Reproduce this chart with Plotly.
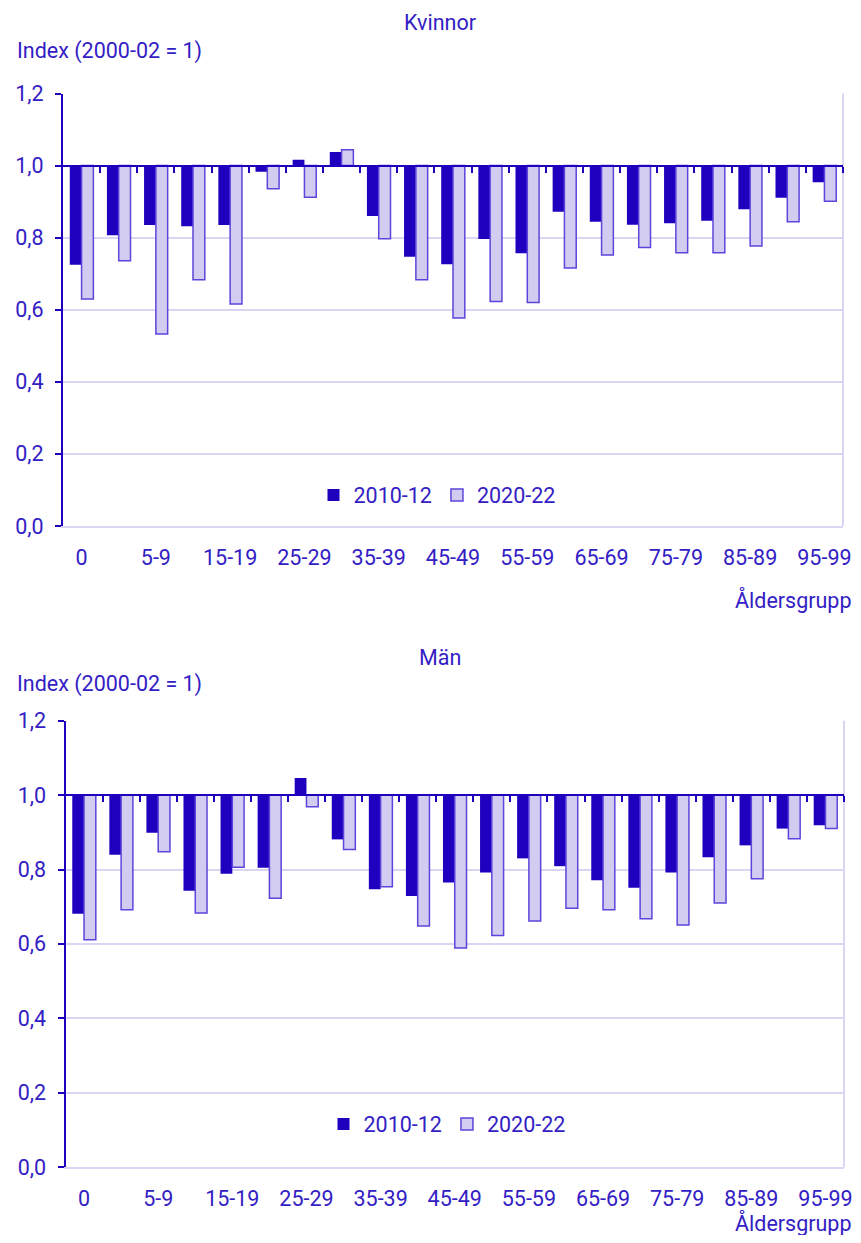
import plotly.graph_objects as go

categories = ["0", "1-4", "5-9", "10-14", "15-19", "20-24", "25-29", "30-34", "35-39",
              "40-44", "45-49", "50-54", "55-59", "60-64", "65-69", "70-74", "75-79",
              "80-84", "85-89", "90-94", "95-99"]
series_names = ["2010-12", "2020-22"]
panel_titles = ["Kvinnor", "Män"]
y_title = "Index (2000-02 = 1)"
x_title = "Åldersgrupp"

kvinnor_2010 = [0.725, 0.807, 0.835, 0.832, 0.835, 0.983, 1.016, 1.038, 0.860, 0.747, 0.726,
                0.796, 0.757, 0.872, 0.844, 0.836, 0.840, 0.847, 0.879, 0.911, 0.954]
kvinnor_2020 = [0.630, 0.736, 0.533, 0.683, 0.616, 0.936, 0.912, 1.044, 0.797, 0.683, 0.577,
                0.623, 0.620, 0.716, 0.752, 0.773, 0.758, 0.758, 0.777, 0.844, 0.901]
man_2010 = [0.681, 0.840, 0.899, 0.743, 0.789, 0.805, 1.046, 0.881, 0.747, 0.729, 0.765,
            0.792, 0.830, 0.809, 0.771, 0.751, 0.792, 0.833, 0.865, 0.910, 0.919]
man_2020 = [0.611, 0.692, 0.848, 0.683, 0.806, 0.723, 0.969, 0.854, 0.754, 0.648, 0.589,
            0.623, 0.662, 0.696, 0.692, 0.668, 0.651, 0.710, 0.775, 0.883, 0.910]

y_ticks = [0.0, 0.2, 0.4, 0.6, 0.8, 1.0, 1.2]
base_value = 1.0

# page is 861x1243; browser body margin is 8px, so the figure is 16px smaller
OFF = 8
W, H = 861 - 2 * OFF, 1243 - 2 * OFF
DARK = "#1e00be"
LIGHT = "#d2cdf0"
LIGHT_LINE = "#5a46dc"
GRID = "#d9d5f3"
TEXT = "#3320c4"
FONT = "Roboto"
FS = 21.5

def px_x(p):
    return (p - OFF) / W

def px_y(p):
    return 1 - (p - OFF) / H

# panel geometry (page pixels)
panels = [
    dict(x0=63, x1=843, ytop=93.5, ybot=526, data=(kvinnor_2010, kvinnor_2020),
         title_y=22, ytitle_y=51, xtitle_y=600, legend_x=437, legend_y=495),
    dict(x0=65.5, x1=844, ytop=720.7, ybot=1167.2, data=(man_2010, man_2020),
         title_y=657, ytitle_y=684, xtitle_y=1223, legend_x=447, legend_y=1124),
]

fig = go.Figure()
annotations = []
shapes = []
layout = dict(width=W, height=H, margin=dict(l=0, r=0, t=0, b=0, autoexpand=False),
              plot_bgcolor="white", paper_bgcolor="white",
              separators=", ", barmode="group", bargap=0.365, bargroupgap=0,
              font=dict(family=FONT, size=FS, color=TEXT), showlegend=True)

n = len(categories)
for i, p in enumerate(panels):
    xa = "x" if i == 0 else "x2"
    ya = "y" if i == 0 else "y2"
    xo = "x3" if i == 0 else "x4"
    leg = "legend" if i == 0 else "legend2"
    d1, d2 = p["data"]
    fig.add_trace(go.Bar(x=categories, y=[v - base_value for v in d1], base=base_value,
                         name=series_names[0], marker=dict(color=DARK, line=dict(width=0)),
                         xaxis=xa, yaxis=ya, legend=leg))
    fig.add_trace(go.Bar(x=categories, y=[v - base_value for v in d2], base=base_value,
                         name=series_names[1],
                         marker=dict(color=LIGHT, line=dict(color=LIGHT_LINE, width=1.5)),
                         xaxis=xa, yaxis=ya, legend=leg))
    fig.add_trace(go.Scatter(x=[], y=[], xaxis=xo, yaxis=ya, showlegend=False, hoverinfo="skip"))

    ydom = [px_y(p["ybot"]), px_y(p["ytop"])]
    xdom = [px_x(p["x0"]), px_x(p["x1"])]
    pos1 = ydom[0] + (base_value / 1.2) * (ydom[1] - ydom[0])
    sfx = "" if i == 0 else "2"
    osfx = "3" if i == 0 else "4"

    layout["xaxis" + sfx] = dict(domain=xdom, anchor=ya, type="category",
                                  range=[-0.5, n - 0.5], automargin=False,
                                  tickvals=categories[::2], ticktext=categories[::2],
                                  showgrid=False, showline=True, linecolor=GRID, linewidth=2,
                                  ticks="", ticklabelstandoff=11,
                                  tickfont=dict(family=FONT, size=FS, color=TEXT),
                                  fixedrange=True)
    layout["yaxis" + sfx] = dict(domain=ydom, anchor=xa, range=[0, 1.2], tickvals=y_ticks,
                                  tickformat=".1f", showgrid=True, gridcolor=GRID, gridwidth=2,
                                  showline=True, linecolor=DARK, linewidth=2, automargin=False,
                                  ticks="outside", ticklen=6, tickwidth=2, tickcolor=DARK,
                                  zeroline=False, ticklabelstandoff=7,
                                  tickfont=dict(family=FONT, size=FS, color=TEXT))
    layout["xaxis" + osfx] = dict(overlaying=xa, anchor="free", position=pos1,
                                   range=[-0.5, n - 0.5], type="linear", automargin=False,
                                   tickvals=[k + 0.5 for k in range(n)],
                                   showticklabels=False, showgrid=False, zeroline=False,
                                   showline=True, linecolor=DARK, linewidth=2,
                                   ticks="outside", ticklen=6, tickwidth=2, tickcolor=DARK)
    layout[leg] = dict(orientation="h", x=px_x(p["legend_x"]), y=px_y(p["legend_y"]),
                       xanchor="center", yanchor="middle", bgcolor="rgba(0,0,0,0)",
                       font=dict(family=FONT, size=FS, color=TEXT), itemwidth=30,
                       traceorder="normal")
    shapes.append(dict(type="line", xref=xa + " domain", yref=ya + " domain",
                       x0=1, x1=1, y0=0, y1=1, line=dict(color=GRID, width=2), layer="below"))
    annotations.append(dict(text=panel_titles[i], x=px_x(440), y=px_y(p["title_y"]),
                            xref="paper", yref="paper", showarrow=False,
                            xanchor="center", yanchor="middle",
                            font=dict(family=FONT, size=FS, color=TEXT)))
    annotations.append(dict(text=y_title, x=px_x(15), y=px_y(p["ytitle_y"]),
                            xref="paper", yref="paper", showarrow=False,
                            xanchor="left", yanchor="middle",
                            font=dict(family=FONT, size=FS, color=TEXT)))
    annotations.append(dict(text=x_title, x=1.0, y=px_y(p["xtitle_y"]),
                            xref="paper", yref="paper", showarrow=False,
                            xanchor="right", yanchor="middle", borderpad=0,
                            font=dict(family=FONT, size=FS, color=TEXT)))

layout["annotations"] = annotations
layout["shapes"] = shapes
fig.update_layout(**layout)
fig.write_html("out.html")
